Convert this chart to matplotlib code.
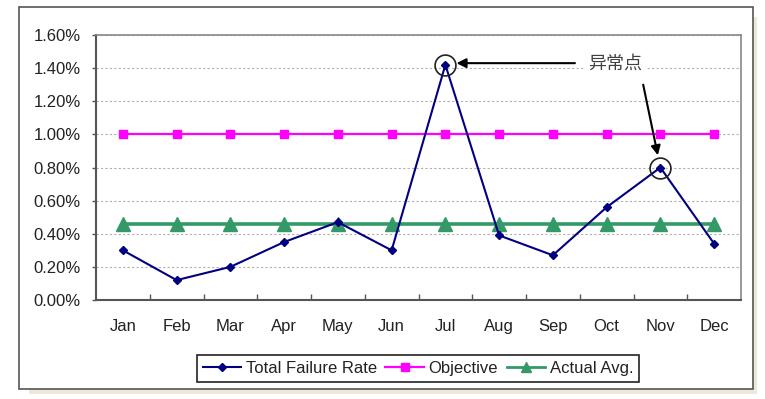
import matplotlib
matplotlib.use("Agg")
import matplotlib.pyplot as plt
from matplotlib.patches import Rectangle
from matplotlib.ticker import FuncFormatter, MultipleLocator

plt.rcParams['font.family'] = ['Liberation Sans', 'Noto Sans CJK SC', 'DejaVu Sans']

months = ["Jan", "Feb", "Mar", "Apr", "May", "Jun", "Jul", "Aug", "Sep", "Oct", "Nov", "Dec"]
total_failure_rate = [0.30, 0.12, 0.20, 0.35, 0.47, 0.30, 1.42, 0.39, 0.27, 0.56, 0.80, 0.34]  # percent
objective = [1.00] * 12
actual_avg = [0.46] * 12
anomaly_label = "异常点"
anomaly_months = [6, 10]  # Jul, Nov

W, H = 765, 399
fig = plt.figure(figsize=(W / 100, H / 100), dpi=100)
fig.patch.set_facecolor("white")

# outer frame with shadow
fig.patches.append(Rectangle((29 / W, 1 - 394 / H), (757 - 29) / W, (394 - 17) / H,
                             transform=fig.transFigure, facecolor="#ECE9D8", edgecolor="none", zorder=0))
fig.patches.append(Rectangle((19 / W, 1 - 389 / H), (753 - 19) / W, (389 - 7) / H,
                             transform=fig.transFigure, facecolor="white", edgecolor="#555555",
                             linewidth=1.2, zorder=0.5))

ax = fig.add_axes([96 / W, 1 - 300 / H, 645 / W, 265 / H])
ax.set_zorder(2)
ax.set_facecolor("white")
x = list(range(len(months)))

ax.plot(x, objective, color="#FF00FF", lw=1.6, marker="s", markersize=5.5, label="Objective", zorder=3)
ax.plot(x, actual_avg, color="#339966", lw=2.6, marker="^", markersize=9.5, label="Actual Avg.", zorder=3)
ax.plot(x, total_failure_rate, color="#000080", lw=1.5, marker="D", markersize=4.5, label="Total Failure Rate", zorder=4)

ax.set_xlim(-0.5, 11.5)
ax.set_ylim(0, 1.6)
ax.yaxis.set_major_locator(MultipleLocator(0.2))
ax.yaxis.set_major_formatter(FuncFormatter(lambda v, p: f"{v:.2f}%"))
ax.set_xticks(x)
ax.set_xticklabels(months)
ax.set_xticks([i + 0.5 for i in x[:-1]], minor=True)
ax.tick_params(axis="x", which="major", length=0, pad=14, labelsize=12, labelcolor="#222222")
ax.tick_params(axis="x", which="minor", direction="in", length=4, width=1, color="#555555")
ax.tick_params(axis="y", which="major", direction="out", length=3, width=1, color="#555555",
               pad=8, labelsize=12, labelcolor="#222222")
ax.grid(axis="y", color="#B0B0B0", linestyle=(0, (2, 2)), linewidth=0.8, zorder=0)
ax.set_axisbelow(True)
for s in ["left", "bottom"]:
    ax.spines[s].set_color("#555555")
    ax.spines[s].set_linewidth(1.5)
for s in ["top", "right"]:
    ax.spines[s].set_color("#888888")
    ax.spines[s].set_linewidth(1.2)

# anomaly circles
for m in anomaly_months:
    ax.plot([m], [total_failure_rate[m]], marker="o", markersize=15, markerfacecolor="none",
            markeredgecolor="#222222", markeredgewidth=1.2, zorder=5)

# annotation text and arrows
ax.text(9.16, 1.43, anomaly_label, fontsize=13, color="#404040", ha="center", va="center",
        family=["Noto Sans CJK SC", "DejaVu Sans"],
        bbox=dict(facecolor="white", edgecolor="none", pad=3), zorder=6)
ax.annotate("", xy=(anomaly_months[0], total_failure_rate[anomaly_months[0]] + 0.01),
            xytext=(8.41, 1.43),
            arrowprops=dict(arrowstyle="-|>", color="black", lw=1.5, shrinkA=0, shrinkB=8,
                            mutation_scale=14), zorder=6)
ax.annotate("", xy=(anomaly_months[1], total_failure_rate[anomaly_months[1]]),
            xytext=(9.68, 1.30),
            arrowprops=dict(arrowstyle="-|>", color="black", lw=1.5, shrinkA=0, shrinkB=9,
                            mutation_scale=14), zorder=6)

# legend
h, l = ax.get_legend_handles_labels()
order = [2, 0, 1]
leg = fig.legend([h[i] for i in order], [l[i] for i in order], loc="center",
                 bbox_to_anchor=(418 / W, 1 - 368.5 / H), ncol=3, fontsize=12,
                 frameon=True, fancybox=False, edgecolor="#222222", framealpha=1,
                 handlelength=2.3, handletextpad=0.3, columnspacing=0.5, borderpad=0.35,
                 borderaxespad=0)
leg.set_zorder(5)
leg.get_frame().set_linewidth(1.2)
for t in leg.get_texts():
    t.set_color("#222222")
for lh in leg.legend_handles:
    if lh.get_label() == "Actual Avg." or lh.get_marker() == "^":
        lh.set_markersize(7)
        lh.set_linewidth(2)

fig.savefig("out.png", dpi=100, facecolor="white")
